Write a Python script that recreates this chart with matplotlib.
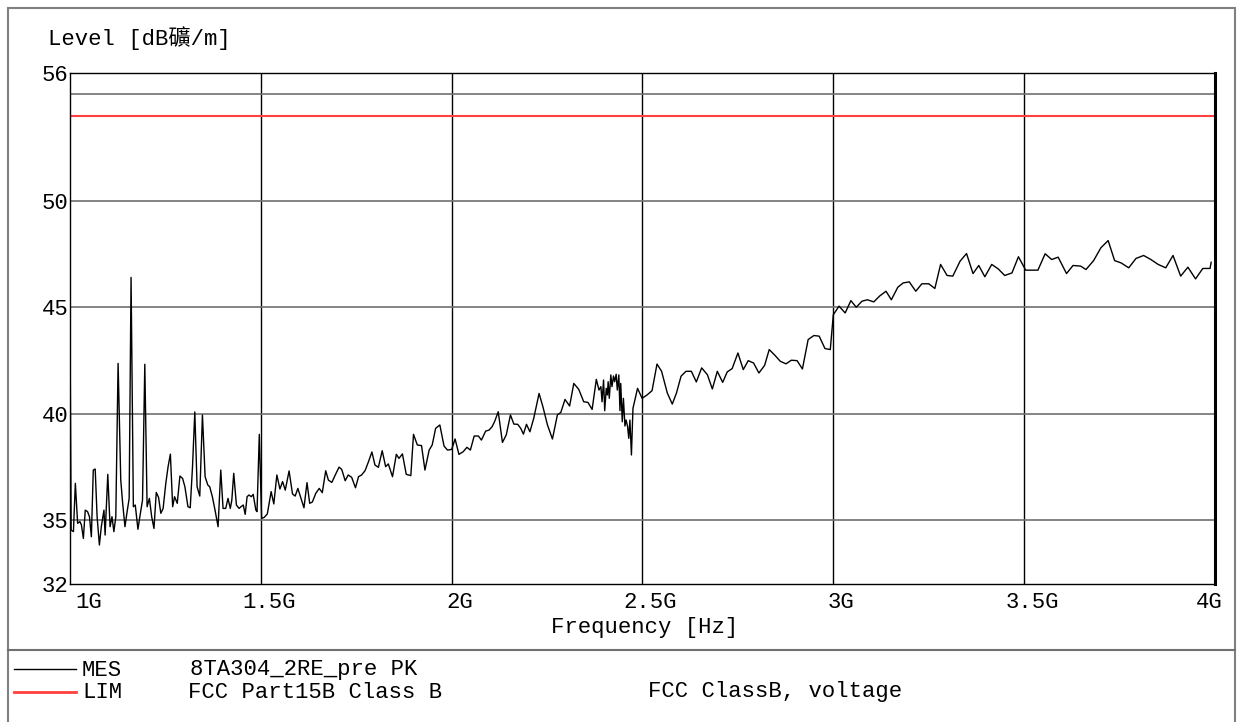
import matplotlib
matplotlib.use('Agg')
import numpy as np
import matplotlib.pyplot as plt
import matplotlib.transforms as mtrans
from matplotlib.lines import Line2D
from matplotlib.patches import Rectangle

plt.rcParams['font.family'] = ['Liberation Mono', 'Noto Sans CJK TC']

# measured trace, frequency in GHz, level in dB
freq_low = [1.000, 1.003, 1.009, 1.014, 1.020, 1.026, 1.030, 1.035, 1.040, 1.046,
            1.051, 1.056, 1.061, 1.066, 1.071, 1.077, 1.082, 1.089, 1.092, 1.099,
            1.105, 1.110, 1.115, 1.120, 1.126, 1.133, 1.138, 1.144, 1.149, 1.155,
            1.160, 1.166, 1.171, 1.178, 1.183, 1.190, 1.196, 1.202, 1.208, 1.214,
            1.220, 1.226, 1.232, 1.238, 1.244, 1.251, 1.257, 1.263, 1.269, 1.274,
            1.281, 1.288, 1.295, 1.301, 1.309, 1.315, 1.321, 1.327, 1.333, 1.340,
            1.347, 1.354, 1.361, 1.366, 1.373, 1.380, 1.388, 1.395, 1.401, 1.408,
            1.414, 1.420, 1.424, 1.429, 1.436, 1.443, 1.448, 1.454, 1.459, 1.464,
            1.469, 1.475, 1.480, 1.487, 1.490, 1.496]
level_low = [44.20, 34.53, 34.46, 36.73, 34.85, 34.93, 34.77, 34.14, 35.47, 35.40,
             35.16, 34.22, 37.35, 37.40, 35.16, 33.83, 34.69, 35.47, 34.30, 37.15,
             34.69, 35.16, 34.46, 35.16, 42.36, 36.88, 35.79, 34.69, 35.32, 36.02,
             46.40, 35.63, 35.71, 34.57, 35.16, 35.94, 42.32, 35.63, 36.02, 35.16,
             34.61, 36.30, 36.07, 35.32, 35.55, 36.73, 37.51, 38.10, 35.63, 36.10,
             35.79, 37.07, 36.96, 36.57, 35.63, 35.58, 37.51, 40.08, 36.57, 36.13,
             39.94, 37.04, 36.65, 36.57, 36.10, 35.47, 34.69, 37.35, 35.55, 35.55,
             36.02, 35.55, 35.94, 37.20, 35.71, 35.55, 35.63, 35.71, 35.27, 36.10,
             36.18, 36.10, 36.21, 35.47, 35.40, 39.03]

freq_mid = [1.502, 1.509, 1.517, 1.527, 1.534, 1.542, 1.550, 1.557, 1.564, 1.574,
            1.583, 1.590, 1.597, 1.606, 1.613, 1.621, 1.628, 1.635, 1.644, 1.653,
            1.661, 1.670, 1.677, 1.686, 1.695, 1.705, 1.712, 1.721, 1.729, 1.738,
            1.748, 1.756, 1.764, 1.773, 1.782, 1.791, 1.799, 1.808, 1.818, 1.827,
            1.834, 1.845, 1.855, 1.862, 1.871, 1.881, 1.893, 1.900, 1.910, 1.921,
            1.930, 1.941, 1.949, 1.958, 1.969, 1.980, 1.989, 2.000, 2.009, 2.019,
            2.030, 2.040, 2.049, 2.059, 2.070, 2.078, 2.089, 2.098, 2.106, 2.113,
            2.122, 2.133, 2.143, 2.154, 2.163, 2.173, 2.181, 2.188, 2.196, 2.205,
            2.215, 2.229, 2.239, 2.251, 2.264, 2.277, 2.286, 2.297, 2.309, 2.320,
            2.333, 2.346, 2.357, 2.368, 2.379, 2.386, 2.391, 2.394, 2.398, 2.401,
            2.405, 2.408, 2.410, 2.413, 2.417, 2.420, 2.424, 2.427, 2.431, 2.434,
            2.438, 2.441, 2.443, 2.447, 2.450, 2.454, 2.457, 2.461, 2.464, 2.467,
            2.471, 2.475, 2.487, 2.499, 2.512, 2.525, 2.538]
level_mid = [35.08, 35.13, 35.29, 36.34, 35.76, 37.12, 36.46, 36.81, 36.41, 37.31,
             36.23, 36.13, 36.49, 35.97, 35.58, 36.76, 35.79, 35.85, 36.26, 36.49,
             36.29, 37.32, 36.88, 36.77, 37.12, 37.49, 37.38, 36.85, 37.12, 37.01,
             36.52, 37.04, 37.12, 37.32, 37.74, 38.20, 37.59, 37.48, 38.26, 37.51,
             37.64, 37.04, 38.09, 37.90, 38.11, 37.15, 37.09, 39.03, 38.53, 38.50,
             37.35, 38.29, 38.53, 39.31, 39.47, 38.48, 38.29, 38.32, 38.81, 38.09,
             38.21, 38.42, 38.29, 38.95, 38.95, 38.76, 39.18, 39.23, 39.39, 39.65,
             40.09, 38.65, 39.00, 39.94, 39.51, 39.50, 39.31, 39.04, 39.50, 39.15,
             39.78, 40.95, 40.33, 39.47, 38.81, 39.94, 40.06, 40.67, 40.36, 41.42,
             41.14, 40.56, 40.53, 40.20, 41.61, 41.11, 41.27, 40.56, 41.58, 40.14,
             41.19, 40.88, 41.50, 40.72, 41.82, 41.27, 41.77, 41.50, 41.85, 41.11,
             41.82, 40.14, 41.42, 39.62, 40.72, 39.42, 39.70, 39.39, 38.84, 39.70,
             38.06, 40.25, 41.19, 40.72, 40.88, 41.08, 42.33]

freq_high = [2.550, 2.565, 2.578, 2.589, 2.601, 2.614, 2.628, 2.641, 2.655, 2.670,
             2.683, 2.696, 2.710, 2.722, 2.735, 2.750, 2.764, 2.777, 2.791, 2.805,
             2.820, 2.832, 2.847, 2.861, 2.876, 2.890, 2.905, 2.919, 2.934, 2.949,
             2.963, 2.978, 2.992, 3.000, 3.015, 3.031, 3.046, 3.060, 3.075, 3.089,
             3.106, 3.121, 3.138, 3.152, 3.169, 3.183, 3.199, 3.216, 3.232, 3.250,
             3.266, 3.281, 3.298, 3.313, 3.332, 3.349, 3.366, 3.381, 3.397, 3.415,
             3.432, 3.449, 3.468, 3.485, 3.504, 3.521, 3.536, 3.555, 3.572, 3.589,
             3.611, 3.628, 3.648, 3.662, 3.682, 3.701, 3.720, 3.737, 3.754, 3.774,
             3.793, 3.813, 3.832, 3.851, 3.871, 3.890, 3.910, 3.929, 3.949, 3.968,
             3.987, 3.990]
level_high = [41.99, 40.97, 40.45, 40.97, 41.76, 41.99, 41.99, 41.49, 42.15, 41.83,
              41.16, 41.99, 41.47, 41.96, 42.12, 42.85, 42.07, 42.49, 42.38, 41.91,
              42.27, 43.01, 42.74, 42.46, 42.34, 42.51, 42.49, 42.10, 43.48, 43.67,
              43.64, 43.06, 43.01, 44.65, 45.05, 44.73, 45.31, 45.00, 45.28, 45.35,
              45.25, 45.52, 45.75, 45.35, 45.94, 46.14, 46.19, 45.75, 46.10, 46.10,
              45.88, 47.01, 46.49, 46.46, 47.16, 47.52, 46.58, 46.96, 46.43, 47.01,
              46.80, 46.49, 46.61, 47.37, 46.74, 46.74, 46.74, 47.51, 47.24, 47.35,
              46.58, 46.96, 46.93, 46.77, 47.19, 47.79, 48.13, 47.19, 47.08, 46.85,
              47.29, 47.43, 47.24, 47.01, 46.85, 47.43, 46.46, 46.88, 46.33, 46.82,
              46.82, 47.11]

limit_db = 54.0
x_ticks = [1.0, 1.5, 2.0, 2.5, 3.0, 3.5, 4.0]
x_labels = ['1G', '1.5G', '2G', '2.5G', '3G', '3.5G', '4G']
y_ticks = [32, 35, 40, 45, 50, 56]
y_labels = ['32', '35', '40', '45', '50', '56']
y_grid = [35, 40, 45, 50, 55]
mes_text = ['MES', '8TA304_2RE_pre PK']
lim_text = ['LIM', 'FCC Part15B Class B', 'FCC ClassB, voltage']

freq = np.concatenate([freq_low, freq_mid, freq_high])
level = np.concatenate([level_low, level_mid, level_high])

W, H = 1240, 722
def fx(px):
    return px / W
def fy(py):
    return 1 - py / H

FS = 16
fig = plt.figure(figsize=(12.4, 7.22), dpi=100)
ax = fig.add_axes([fx(70), fy(584), fx(1215) - fx(70), fy(73) - fy(584)])
ax.set_xlim(1, 4)
ax.set_ylim(32, 56)

for v in x_ticks[1:-1]:
    ax.axvline(v, color='black', lw=1, zorder=1)
for v in y_grid:
    ax.axhline(v, color='#707070', lw=1.2, zorder=1)
ax.axhline(limit_db, color='#ff4040', lw=1.5, zorder=2)
ax.plot(freq, level, color='black', lw=1, zorder=3)

for s in ax.spines.values():
    s.set_color('black')
    s.set_linewidth(1)
ax.spines['right'].set_linewidth(2.2)

ax.set_yticks(y_ticks)
ax.set_yticklabels(y_labels)
ax.set_xticks(x_ticks)
ax.set_xticklabels(x_labels)
ax.tick_params(length=0, labelsize=FS)
ax.tick_params(axis='y', pad=1)
ax.tick_params(axis='x', pad=6)

xl = ax.get_xticklabels()
for i, lab in enumerate(xl):
    if i == 0:
        lab.set_ha('left')
        dx = 5
    elif i == len(xl) - 1:
        lab.set_ha('right')
        dx = 8
    else:
        dx = 8
    lab.set_transform(lab.get_transform() + mtrans.ScaledTranslation(dx / 100, 0, fig.dpi_scale_trans))

ax.set_xlabel('Frequency [Hz]', fontsize=FS)
ax.xaxis.set_label_coords((645 - 70) / 1145, (584 - 617) / 511)
ax.xaxis.label.set_va('top')

fig.text(fx(48), fy(38), 'Level [dB礦/m]', fontsize=FS, va='center', ha='left')

# outer frame and legend box
fig.add_artist(Rectangle((fx(8), fy(780)), fx(1235) - fx(8), fy(8) - fy(780),
                         transform=fig.transFigure, fill=False, edgecolor='#808080', lw=1.5))
fig.add_artist(Line2D([fx(8), fx(1235)], [fy(650), fy(650)], transform=fig.transFigure,
                      color='#707070', lw=1.5))

fig.add_artist(Line2D([fx(14), fx(76)], [fy(669), fy(669)], transform=fig.transFigure,
                      color='black', lw=1))
fig.add_artist(Line2D([fx(14), fx(76)], [fy(692), fy(692)], transform=fig.transFigure,
                      color='#ff4040', lw=2))
for s, px in zip(mes_text, [82, 190]):
    fig.text(fx(px), fy(670), s, fontsize=FS, va='center', ha='left')
for s, px in zip(lim_text, [82, 188, 648]):
    fig.text(fx(px), fy(692), s, fontsize=FS, va='center', ha='left')

plt.savefig('out.png', dpi=100)
